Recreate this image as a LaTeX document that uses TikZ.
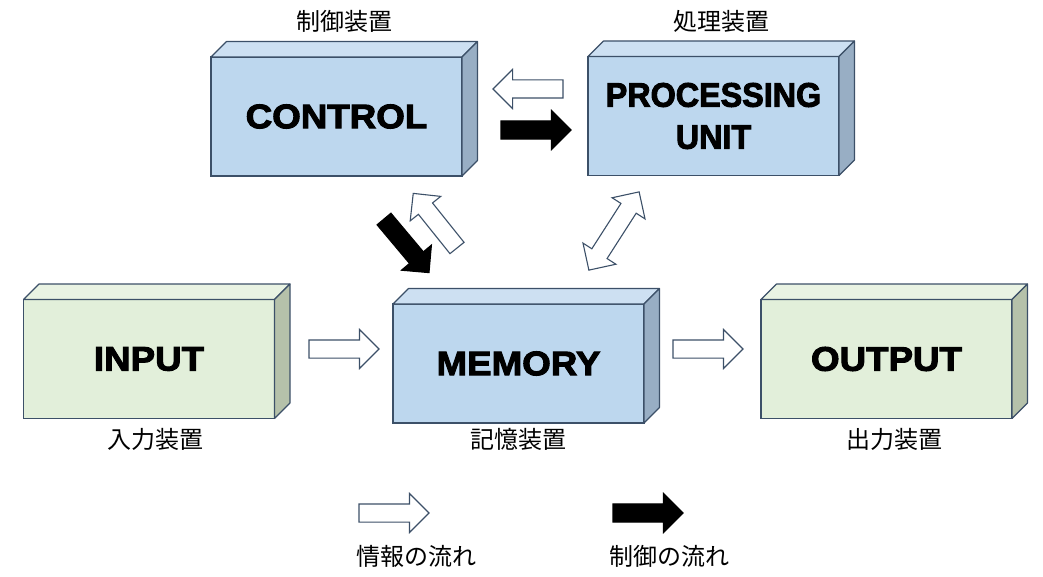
\documentclass[tikz,border=0pt]{standalone}
\usepackage{fontspec}
\usetikzlibrary{shapes.arrows,calc}
\newfontfamily\jpfont{Noto Sans CJK JP}
\newfontfamily\boxfont[FakeStretch=1.08,BoldFeatures={FakeBold=3}]{Liberation Sans}
\definecolor{bluefront}{HTML}{BDD7EE}
\definecolor{bluetop}{HTML}{CDE0F2}
\definecolor{blueside}{HTML}{98AEC4}
\definecolor{greenfront}{HTML}{E2EFDA}
\definecolor{greentop}{HTML}{E9F3E3}
\definecolor{greenside}{HTML}{B5C1AA}
\definecolor{edge}{HTML}{3C5068}
\newcommand\cubefaces[3]{%
  \draw[face, fill=#2] (#1.north west) -- ++(15.5,15.5) -- ($(#1.north east)+(15.5,15.5)$) -- (#1.north east) -- cycle;
  \draw[face, fill=#3] (#1.north east) -- ++(15.5,15.5) -- ($(#1.south east)+(15.5,15.5)$) -- (#1.south east) -- cycle;}
\begin{document}
\begin{tikzpicture}[x=1pt,y=1pt,
  front/.style={draw=edge, line width=1.1pt, minimum width=251pt, minimum height=119pt, inner sep=0pt, outer sep=0pt,
    font=\boxfont\bfseries\fontsize{34}{42}\selectfont, align=center},
  bluebox/.style={front, fill=bluefront},
  greenbox/.style={front, fill=greenfront},
  face/.style={draw=edge, line width=1.1pt, line join=round},
  jlabel/.style={font=\jpfont\fontsize{24}{28}\selectfont, inner sep=0pt},
  arrowbase/.style={single arrow, line width=1.1pt, inner sep=0pt, inner ysep=8.5pt, outer sep=0pt,
    single arrow head extend=10.5pt, minimum height=70pt, single arrow tip angle=90},
  infoarrow/.style={arrowbase, draw=edge, fill=white},
  ctrlarrow/.style={arrowbase, draw=black, fill=black},
  infodouble/.style={double arrow, draw=edge, fill=white, line width=1.1pt, inner sep=0pt, inner ysep=8.5pt, outer sep=0pt,
    double arrow head extend=10.5pt, minimum height=93pt, double arrow tip angle=90},
]
\useasboundingbox (0,0) rectangle (1043,-577);

% boxes
\node[bluebox] (control) at (336.5,-116.5) {CONTROL};
\cubefaces{control}{bluetop}{blueside}
\node[bluebox] (proc) at (713.5,-116) {\scalebox{0.88}[1]{PROCESSING}\\\scalebox{0.88}[1]{UNIT}};
\cubefaces{proc}{bluetop}{blueside}
\node[bluebox] (memory) at (518.5,-363.5) {MEMORY};
\cubefaces{memory}{bluetop}{blueside}
\node[greenbox] (input) at (149,-359) {INPUT};
\cubefaces{input}{greentop}{greenside}
\node[greenbox] (output) at (886.5,-359) {OUTPUT};
\cubefaces{output}{greentop}{greenside}

% labels
\node[jlabel] (lcontrol) at (344,-21) {制御装置};
\node[jlabel] (lproc) at (721,-21) {処理装置};
\node[jlabel] (linput) at (155,-439) {入力装置};
\node[jlabel] (lmemory) at (518,-439) {記憶装置};
\node[jlabel] (loutput) at (894,-439) {出力装置};

% arrows
\node[infoarrow, rotate=180, anchor=tail] (a1) at (563,-89) {};
\node[ctrlarrow, anchor=tail] (a2) at (501,-130) {};
\node[ctrlarrow, rotate=-50, anchor=tail] (a3) at (384,-219) {};
\node[infoarrow, rotate=128.7, anchor=tail] (a4) at (457,-248) {};
\node[infodouble, rotate=57.3] (a5) at (614,-231) {};
\node[infoarrow, anchor=tail] (a6) at (309,-349) {};
\node[infoarrow, anchor=tail] (a7) at (673,-349) {};

% legend
\node[infoarrow, anchor=tail] (leg1) at (359,-513) {};
\node[ctrlarrow, anchor=tail] (leg2) at (613,-513) {};
\node[jlabel] (legt1) at (416,-556) {情報の流れ};
\node[jlabel] (legt2) at (669,-556) {制御の流れ};
\end{tikzpicture}
\end{document}
